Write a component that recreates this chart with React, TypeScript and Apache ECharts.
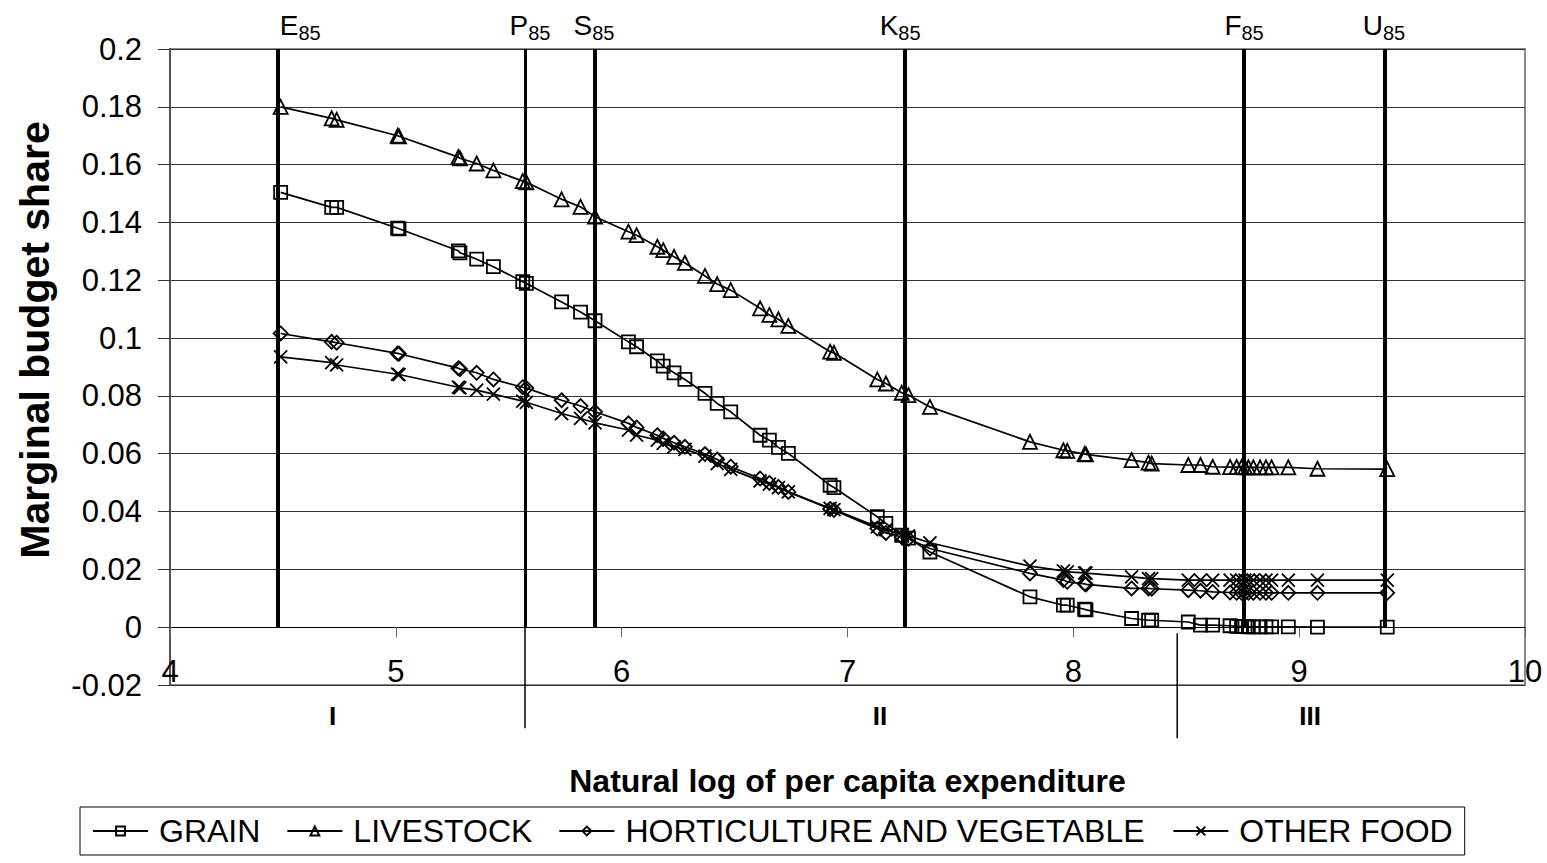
import React, { useEffect, useRef } from "react";
import * as echarts from "echarts";

// ---- data ----
const lnExpenditure = [
  4.49, 4.716, 4.738, 5.008, 5.014, 5.277, 5.284, 5.358, 5.432, 5.562, 5.578, 5.734, 5.818, 5.882,
  6.03, 6.066, 6.158, 6.184, 6.232, 6.28, 6.369, 6.423, 6.483, 6.613, 6.654, 6.694, 6.738, 6.923,
  6.94, 7.132, 7.17, 7.24, 7.27, 7.365, 7.808, 7.956, 7.973, 8.05, 8.056, 8.258, 8.333, 8.347,
  8.509, 8.563, 8.617, 8.694, 8.723, 8.745, 8.76, 8.775, 8.797, 8.827, 8.853, 8.878, 8.952, 9.081, 9.39,
];
const grain = [
  0.1504, 0.1452, 0.1452, 0.138, 0.1378, 0.1302, 0.1295, 0.1273, 0.1247, 0.1195, 0.1189, 0.1125, 0.109, 0.106,
  0.0987, 0.097, 0.0921, 0.0903, 0.088, 0.0857, 0.0809, 0.0774, 0.0745, 0.0664, 0.0647, 0.0622, 0.0601, 0.0491,
  0.0483, 0.0382, 0.0359, 0.0318, 0.0308, 0.026, 0.0105, 0.0076, 0.0076, 0.0062, 0.006, 0.003, 0.0024, 0.0024,
  0.0018, 0.0007, 0.0007, 0.0005, 0.0003, 0.0002, 0.0002, 0.0001, 0.0001, 0.0001, 0.0001, 0.0001, 0.0001, 0.0, 0.0,
];
const livestock = [
  0.18, 0.176, 0.1755, 0.17, 0.1698, 0.1626, 0.1622, 0.1604, 0.158, 0.1543, 0.1539, 0.148, 0.1454, 0.142,
  0.1368, 0.1356, 0.1316, 0.1304, 0.1281, 0.126, 0.1215, 0.1187, 0.1166, 0.1103, 0.108, 0.1065, 0.1042, 0.0953,
  0.0949, 0.0857, 0.0843, 0.0811, 0.0803, 0.0762, 0.0641, 0.0612, 0.061, 0.0599, 0.0598, 0.0578, 0.0569, 0.0566,
  0.0561, 0.0561, 0.0555, 0.0554, 0.0554, 0.0554, 0.0553, 0.0553, 0.0553, 0.0553, 0.0553, 0.0553, 0.0553, 0.0548, 0.0547,
];
const horticulture = [
  0.1016, 0.0987, 0.0984, 0.0947, 0.0946, 0.0896, 0.0893, 0.088, 0.0857, 0.083, 0.0827, 0.0785, 0.0765, 0.0745,
  0.0705, 0.0691, 0.0664, 0.0653, 0.0638, 0.0624, 0.0599, 0.058, 0.0555, 0.0514, 0.0499, 0.0485, 0.0468, 0.0409,
  0.0405, 0.0341, 0.0326, 0.0312, 0.0306, 0.0272, 0.0186, 0.0163, 0.0157, 0.015, 0.0148, 0.0134, 0.0134, 0.0133,
  0.0128, 0.0126, 0.0122, 0.012, 0.0119, 0.0119, 0.0119, 0.0119, 0.0119, 0.0119, 0.0119, 0.0119, 0.0119, 0.0119, 0.0119,
];
const otherFood = [
  0.0935, 0.0915, 0.0907, 0.0875, 0.0874, 0.083, 0.0828, 0.082, 0.0806, 0.0782, 0.0778, 0.0739, 0.0722, 0.0707,
  0.0682, 0.0664, 0.0647, 0.0636, 0.0624, 0.0615, 0.0592, 0.0566, 0.0546, 0.0506, 0.0495, 0.0483, 0.0468, 0.0411,
  0.0407, 0.0347, 0.0337, 0.032, 0.0316, 0.0292, 0.0211, 0.0195, 0.0191, 0.0188, 0.0187, 0.0174, 0.0168, 0.0168,
  0.0163, 0.0163, 0.0163, 0.0163, 0.0163, 0.0163, 0.0163, 0.0163, 0.0163, 0.0163, 0.0163, 0.0163, 0.0163, 0.0163, 0.0163,
];
const seriesNames = ["GRAIN", "LIVESTOCK", "HORTICULTURE AND VEGETABLE", "OTHER FOOD"];
const provinceLetters = ["E", "P", "S", "K", "F", "U"];
const provinceYear = "85";
const provinceX = [4.475, 5.572, 5.882, 7.255, 8.756, 9.38];
const regionNames = ["I", "II", "III"];
const regionCenters = [4.72, 7.144, 9.048];
const regionBreaks = [5.572, 8.46];
const yTicks = { min: -0.02, max: 0.2, interval: 0.02 };
const xTicks = { min: 4, max: 10, interval: 1 };

const FONT = '"Liberation Sans", Arial, Helvetica, sans-serif';

// layout/styling (not data)
const provinceLineWidth = [4, 3, 4, 4, 4, 4];
const provinceLabelDx = [23, 5, -1, -5, 0, -1];

const App: React.FC = () => {
  const ref = useRef<HTMLDivElement>(null);

  useEffect(() => {
    if (!ref.current) return;
    const chart = echarts.init(ref.current, undefined, { renderer: "svg" });

    const allY = [grain, livestock, horticulture, otherFood];
    const symbols = ["rect", "triangle", "diamond", "path://M0,0L10,10M10,0L0,10"];
    const sizes = [13, 14, 14, 13];

    const dataSeries = allY.map((ys, i) => ({
      name: seriesNames[i],
      type: "line",
      data: lnExpenditure.map((x, j) => [x, ys[j]]),
      symbol: symbols[i],
      symbolSize: sizes[i],
      showAllSymbol: true,
      lineStyle: { color: "#000", width: 1.7 },
      itemStyle: { color: "rgba(0,0,0,0)", borderColor: "#000", borderWidth: 1.8 },
      emphasis: { disabled: true },
      z: 3,
    }));

    const markSeries = {
      name: "provinces",
      type: "line",
      data: [],
      silent: true,
      z: 4,
      markLine: {
        symbol: ["none", "none"],
        silent: true,
        animation: false,
        data: provinceX.map((x, i) => [
          {
            coord: [x, 0],
            lineStyle: { color: "#000", width: provinceLineWidth[i], type: "solid" },
            label: {
              show: true,
              position: "end",
              distance: 6,
              offset: [provinceLabelDx[i], 0],
              formatter: `{a|${provinceLetters[i]}}{s|${provinceYear}}`,
              rich: {
                a: { fontSize: 28, fontFamily: FONT, color: "#000" },
                s: { fontSize: 20, fontFamily: FONT, color: "#000", padding: [16, 0, 0, 0] },
              },
            },
          },
          { coord: [x, 0.2] },
        ]),
      },
    };

    const option: any = {
      animation: false,
      backgroundColor: "#fff",
      textStyle: { fontFamily: FONT },
      grid: {
        left: 170,
        right: 22,
        top: 49,
        bottom: 178,
        show: true,
        borderColor: "#8a8a8a",
        borderWidth: 2,
        backgroundColor: "transparent",
      },
      xAxis: {
        type: "value",
        min: xTicks.min,
        max: xTicks.max,
        interval: xTicks.interval,
        name: "Natural log of per capita expenditure",
        nameLocation: "middle",
        nameGap: 80,
        nameTextStyle: { fontSize: 32, fontWeight: "bold", color: "#000", fontFamily: FONT },
        axisLine: { onZero: true, lineStyle: { color: "#000", width: 1 } },
        axisTick: { show: true, inside: false, length: 10, lineStyle: { color: "#666", width: 1 } },
        axisLabel: { fontSize: 31, color: "#000", margin: -29, fontFamily: FONT },
        splitLine: { show: false },
      },
      yAxis: {
        type: "value",
        min: yTicks.min,
        max: yTicks.max,
        interval: yTicks.interval,
        name: "Marginal budget share",
        nameLocation: "middle",
        nameGap: 115,
        nameTextStyle: {
          fontSize: 41,
          fontWeight: "bold",
          color: "#000",
          fontFamily: FONT,
          padding: [0, 0, 0, 54],
        },
        axisLine: { show: true, lineStyle: { color: "#555", width: 2 } },
        axisTick: { show: true, inside: false, length: 12, lineStyle: { color: "#333", width: 1 } },
        axisLabel: {
          fontSize: 31,
          color: "#000",
          margin: 28,
          fontFamily: FONT,
          formatter: (v: number) => String(+v.toFixed(2)),
        },
        splitLine: { show: true, lineStyle: { color: "#333", width: 1 } },
      },
      legend: {
        data: seriesNames,
        left: 80,
        top: 807,
        orient: "horizontal",
        itemWidth: 55,
        itemHeight: 11,
        itemGap: 26,
        padding: [8, 12, 8, 12],
        borderColor: "#000",
        borderWidth: 1,
        backgroundColor: "#fff",
        selectedMode: false,
        textStyle: { fontSize: 32, color: "#000", fontFamily: FONT, padding: [0, 0, 0, 6] },
      },
      series: [markSeries, ...dataSeries],
    };

    chart.setOption(option);

    const px = (v: number) => chart.convertToPixel({ xAxisIndex: 0 }, v) as number;
    const py = (v: number) => chart.convertToPixel({ yAxisIndex: 0 }, v) as number;
    const y0 = py(0);
    const graphics: any[] = [];
    regionBreaks.forEach((b, i) => {
      const x = px(b);
      graphics.push({
        type: "line",
        shape: { x1: x, y1: y0 + (i === 0 ? 0 : 6), x2: x, y2: y0 + (i === 0 ? 101 : 111) },
        style: { stroke: "#000", lineWidth: 1.5 },
        silent: true,
      });
    });
    regionNames.forEach((n, i) => {
      graphics.push({
        type: "text",
        x: px(regionCenters[i]),
        y: y0 + 89,
        style: {
          text: n,
          fontSize: 26,
          fontWeight: "bold",
          fontFamily: FONT,
          fill: "#000",
          align: "center",
          verticalAlign: "middle",
        },
        silent: true,
      });
    });
    chart.setOption({ graphic: graphics });

    return () => chart.dispose();
  }, []);

  return (
    <div
      ref={ref}
      style={{ position: "fixed", left: 0, top: 0, width: 1547, height: 863, background: "#fff" }}
    />
  );
};

export default App;
